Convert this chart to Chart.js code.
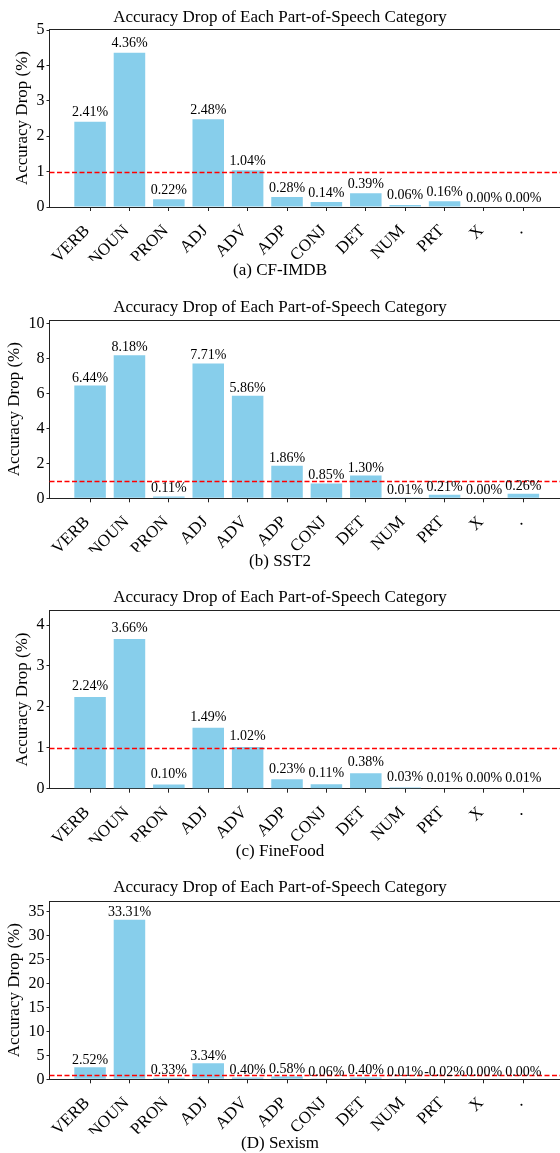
<!DOCTYPE html>
<html>
<head>
<meta charset="utf-8">
<script src="https://cdn.jsdelivr.net/npm/chart.js@4.4.1/dist/chart.umd.min.js"></script>
<style>
  html, body { margin: 0; padding: 0; background: #fff; overflow: hidden; }
  canvas { display: block; }
</style>
</head>
<body>
<canvas id="chartA" width="560" height="290"></canvas>
<canvas id="chartB" width="560" height="290"></canvas>
<canvas id="chartC" width="560" height="290"></canvas>
<canvas id="chartD" width="560" height="290"></canvas>
<script>
'use strict'

const categories = ['VERB', 'NOUN', 'PRON', 'ADJ', 'ADV', 'ADP', 'CONJ', 'DET', 'NUM', 'PRT', 'X', '.'];
const cfImdbDrop = [2.41, 4.36, 0.22, 2.48, 1.04, 0.28, 0.14, 0.39, 0.06, 0.16, 0.00, 0.00];
const sst2Drop = [6.44, 8.18, 0.11, 7.71, 5.86, 1.86, 0.85, 1.30, 0.01, 0.21, 0.00, 0.26];
const fineFoodDrop = [2.24, 3.66, 0.10, 1.49, 1.02, 0.23, 0.11, 0.38, 0.03, 0.01, 0.00, 0.01];
const sexismDrop = [2.52, 33.31, 0.33, 3.34, 0.40, 0.58, 0.06, 0.40, 0.01, -0.02, 0.00, 0.00];
const threshold = 1;

const chartTitle = 'Accuracy Drop of Each Part-of-Speech Category';
const yAxisTitle = 'Accuracy Drop (%)';
const serif = "'Liberation Serif', 'Times New Roman', serif";
const H = 290;

const panels = [
    { id: 'chartA', caption: '(a) CF-IMDB', values: cfImdbDrop, yMax: 5.03, yStep: 1, top: 29, zero: 207, captionY: 271, yTitlePad: 12, labelGap: 5.5 },
    { id: 'chartB', caption: '(b) SST2', values: sst2Drop, yMax: 10.19, yStep: 2, top: 30, zero: 208.3, captionY: 272, yTitlePad: 4, labelGap: 4 },
    { id: 'chartC', caption: '(c) FineFood', values: fineFoodDrop, yMax: 4.36, yStep: 1, top: 30.3, zero: 208.7, captionY: 272, yTitlePad: 12, labelGap: 6.7 },
    { id: 'chartD', caption: '(D) Sexism', values: sexismDrop, yMax: 37.2, yStep: 5, top: 31, zero: 209.3, captionY: 274, yTitlePad: 4, labelGap: 3.3 }
];

// top spine, dashed threshold line and the value labels above bars
const extrasPlugin = {
    id: 'extras',
    afterDatasetsDraw(chart, args, options) {
        const { ctx, chartArea, scales } = chart;
        ctx.save();

        const topY = Math.round(chartArea.top) + 0.5;
        ctx.strokeStyle = '#222';
        ctx.lineWidth = 1;
        ctx.beginPath();
        ctx.moveTo(chartArea.left, topY);
        ctx.lineTo(chart.width, topY);
        ctx.stroke();

        const y = Math.round(scales.y.getPixelForValue(threshold)) + 0.5;
        ctx.strokeStyle = '#ff0000';
        ctx.lineWidth = 1.3;
        ctx.setLineDash([5, 2.5]);
        ctx.beginPath();
        ctx.moveTo(chartArea.left, y);
        ctx.lineTo(chart.width, y);
        ctx.stroke();
        ctx.setLineDash([]);

        ctx.font = '14px ' + serif;
        ctx.fillStyle = '#000';
        ctx.textAlign = 'center';
        ctx.textBaseline = 'alphabetic';
        const points = chart.data.datasets[0].data;
        chart.getDatasetMeta(0).data.forEach((bar, i) => {
            const top = Math.min(bar.y, bar.base);
            ctx.fillText(points[i].y.toFixed(2) + '%', bar.x, top - options.gap);
        });
        ctx.restore();
    }
};

panels.forEach(p => {
    const captionPad = H - p.captionY - 10.2;
    new Chart(document.getElementById(p.id), {
        type: 'bar',
        data: {
            datasets: [{
                data: p.values.map((v, i) => ({ x: i, y: v })),
                backgroundColor: '#87CEEB',
                categoryPercentage: 0.8,
                barPercentage: 1
            }]
        },
        options: {
            responsive: false,
            animation: false,
            devicePixelRatio: 1,
            layout: { padding: 0 },
            plugins: {
                legend: { display: false },
                tooltip: { enabled: false },
                title: {
                    display: true,
                    text: chartTitle,
                    color: '#000',
                    font: { family: serif, size: 17, weight: 'normal' },
                    padding: { top: 7, bottom: p.top - 27.4 }
                },
                subtitle: {
                    display: true,
                    position: 'bottom',
                    text: p.caption,
                    color: '#000',
                    font: { family: serif, size: 17, weight: 'normal' },
                    padding: { top: 0, bottom: captionPad }
                },
                extras: { gap: p.labelGap }
            },
            scales: {
                x: {
                    type: 'linear',
                    offset: false,
                    min: -1.03,
                    max: 11.93,
                    afterBuildTicks: scale => {
                        scale.ticks = categories.map((c, i) => ({ value: i }));
                    },
                    afterFit: scale => {
                        scale.height = H - captionPad - 20.4 - p.zero;
                    },
                    ticks: {
                        callback: value => categories[value],
                        autoSkip: false,
                        minRotation: 45,
                        maxRotation: 45,
                        color: '#000',
                        font: { family: serif, size: 17 },
                        padding: 10,
                        labelOffset: -3
                    },
                    grid: { offset: false, drawOnChartArea: false, drawTicks: true, tickLength: 4, color: '#222' },
                    border: { display: true, color: '#222', width: 1 }
                },
                y: {
                    min: 0,
                    max: p.yMax,
                    afterFit: scale => {
                        scale.width = 49.5;
                    },
                    ticks: {
                        stepSize: p.yStep,
                        includeBounds: false,
                        color: '#000',
                        font: { family: serif, size: 16 },
                        padding: 2
                    },
                    grid: { drawOnChartArea: false, drawTicks: true, tickLength: 3, color: '#222' },
                    border: { display: true, color: '#222', width: 1 },
                    title: {
                        display: true,
                        text: yAxisTitle,
                        color: '#000',
                        font: { family: serif, size: 17 },
                        padding: { top: p.yTitlePad, bottom: 0 }
                    }
                }
            }
        },
        plugins: [extrasPlugin]
    });
});
</script>
</body>
</html>
